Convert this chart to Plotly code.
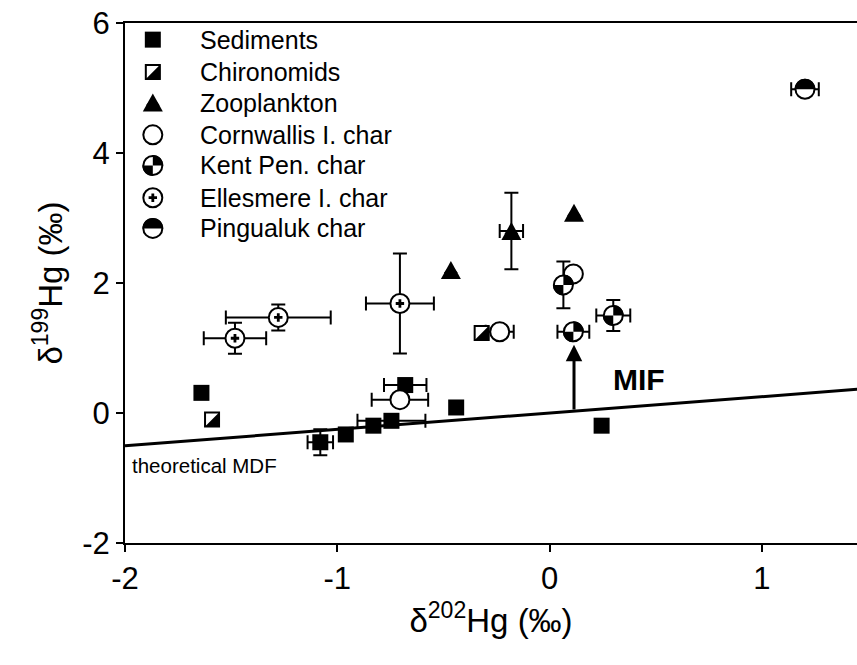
import plotly.graph_objects as go

FONT = "Arial, Liberation Sans, sans-serif"

# ---------------- data (delta202Hg, delta199Hg, permil) ----------------
sed_x = [-1.64, -1.08, -0.96, -0.83, -0.745, -0.68, -0.44, 0.245]
sed_y = [0.31, -0.45, -0.33, -0.195, -0.12, 0.43, 0.085, -0.195]
sed_xerr = [0, 0.06, 0, 0, 0.16, 0.10, 0, 0]
sed_yerr = [0, 0.20, 0, 0, 0, 0, 0, 0]

chir_x = [-1.59, -0.32]
chir_y = [-0.10, 1.23]
chir_xerr = [0, 0]
chir_yerr = [0, 0]

zoo_x = [-0.465, -0.18, 0.115]
zoo_y = [2.20, 2.80, 3.08]
zoo_xerr = [0, 0.055, 0]
zoo_yerr = [0, 0.59, 0]

corn_x = [-0.705, -0.235, 0.112]
corn_y = [0.205, 1.25, 2.14]
corn_xerr = [0.133, 0.066, 0]
corn_yerr = [0, 0, 0]

kent_x = [0.065, 0.112, 0.30]
kent_y = [1.97, 1.25, 1.50]
kent_xerr = [0, 0.075, 0.08]
kent_yerr = [0.36, 0, 0.24]

elle_x = [-1.482, -1.278, -0.705]
elle_y = [1.15, 1.47, 1.685]
elle_xerr = [0.147, 0.247, 0.16]
elle_yerr = [0.24, 0.20, 0.77]

ping_x = [1.203]
ping_y = [4.98]
ping_xerr = [0.065]
ping_yerr = [0]

# theoretical mass-dependent fractionation line
mdf_x = [-2.0, 1.45]
mdf_y = [-0.504, 0.365]

# MIF arrow (from MDF line up to the sample)
mif_x = 0.115
mif_y0 = 0.03
mif_y1 = 1.05

x_ticks = [-2, -1, 0, 1]
x_ticktext = ["-2", "-1", "0", "1"]
y_ticks = [-2, 0, 2, 4, 6]
y_ticktext = ["-2", "0", "2", "4", "6"]

series = [
    ("Sediments", "sed", sed_x, sed_y, sed_xerr, sed_yerr),
    ("Chironomids", "chir", chir_x, chir_y, chir_xerr, chir_yerr),
    ("Zooplankton", "zoo", zoo_x, zoo_y, zoo_xerr, zoo_yerr),
    ("Cornwallis I. char", "corn", corn_x, corn_y, corn_xerr, corn_yerr),
    ("Kent Pen. char", "kent", kent_x, kent_y, kent_xerr, kent_yerr),
    ("Ellesmere I. char", "elle", elle_x, elle_y, elle_xerr, elle_yerr),
    ("Pingualuk char", "ping", ping_x, ping_y, ping_xerr, ping_yerr),
]

# ---------------- symbol helpers ----------------
CIRC = 21
SQ = 16
R = 10.5
KAPPA = 0.5523


def _p(*pts):
    return " ".join(f"{a:.2f},{b:.2f}" for a, b in pts)


def quadrant_path(r, q):
    k = KAPPA * r
    if q == "tr":
        return f"M 0,0 L {r},0 C {_p((r, k), (k, r), (0, r))} Z"
    if q == "bl":
        return f"M 0,0 L {-r},0 C {_p((-r, -k), (-k, -r), (0, -r))} Z"
    if q == "tl":
        return f"M 0,0 L 0,{r} C {_p((-k, r), (-r, k), (-r, 0))} Z"
    return f"M 0,0 L 0,{-r} C {_p((k, -r), (r, -k), (r, 0))} Z"


def top_half_path(r):
    k = KAPPA * r
    return (f"M {-r},0 C {_p((-r, k), (-k, r), (0, r))} "
            f"C {_p((k, r), (r, k), (r, 0))} Z")


def half_square_path(s):
    h = s / 2
    return f"M {-h},{-h} L {h},{-h} L {h},{h} Z"


def triangle_path(w, h):
    return f"M {-w / 2},{-h / 2} L {w / 2},{-h / 2} L 0,{h / 2} Z"


def marker_style(kind):
    if kind == "sed":
        return dict(symbol="square", size=SQ, color="black", line=dict(width=0))
    if kind == "chir":
        return dict(symbol="square", size=SQ - 2, color="white",
                    line=dict(width=2, color="black"))
    if kind == "zoo":
        return dict(symbol="triangle-up", size=12, color="black", line=dict(width=0))
    return dict(symbol="circle", size=CIRC - 2, color="white",
                line=dict(width=2, color="black"))


def fill_shapes(kind, xs, ys, xref, yref):
    paths = []
    if kind == "chir":
        paths = [half_square_path(SQ - 1)]
    elif kind == "kent":
        paths = [quadrant_path(R, "tr"), quadrant_path(R, "bl")]
    elif kind == "ping":
        paths = [top_half_path(R)]
    elif kind == "zoo":
        paths = [triangle_path(20, 18)]
    out = []
    for x, y in zip(xs, ys):
        for p in paths:
            out.append(dict(type="path", xref=xref, yref=yref,
                            xsizemode="pixel", ysizemode="pixel",
                            xanchor=x, yanchor=y, path=p,
                            fillcolor="black", line=dict(width=0),
                            layer="above"))
    return out


fig = go.Figure()
shapes = []

# MDF line
fig.add_trace(go.Scatter(x=mdf_x, y=mdf_y, mode="lines",
                         line=dict(color="black", width=3),
                         showlegend=False, hoverinfo="skip"))

# error bars first so every symbol sits on top of them
for name, kind, xs, ys, xe, ye in series:
    idx = [i for i in range(len(xs)) if xe[i] or ye[i]]
    if not idx:
        continue
    fig.add_trace(go.Scatter(
        x=[xs[i] for i in idx], y=[ys[i] for i in idx], mode="markers",
        marker=dict(size=1, opacity=0),
        error_x=dict(type="data", array=[xe[i] for i in idx], color="black",
                     thickness=2, width=7, visible=True),
        error_y=dict(type="data", array=[ye[i] for i in idx], color="black",
                     thickness=2, width=7, visible=True),
        showlegend=False, hoverinfo="skip"))

# symbols
for name, kind, xs, ys, xe, ye in series:
    fig.add_trace(go.Scatter(x=xs, y=ys, mode="markers", name=name,
                             marker=marker_style(kind), showlegend=False))
    if kind == "elle":
        fig.add_trace(go.Scatter(x=xs, y=ys, mode="markers",
                                 marker=dict(symbol="cross", size=7, color="black",
                                             line=dict(width=0)),
                                 showlegend=False, hoverinfo="skip"))
    shapes += fill_shapes(kind, xs, ys, "x", "y")

# hand-built legend on an overlay axis spanning the plot area (0..1)
LEG_X = 0.038
LEG_TX = 0.1
LEG_ROWS = [0.968, 0.906, 0.847, 0.785, 0.726, 0.664, 0.605]
annotations = []
for (name, kind, *_), ly in zip(series, LEG_ROWS):
    fig.add_trace(go.Scatter(x=[LEG_X], y=[ly], mode="markers", xaxis="x2", yaxis="y2",
                             marker=marker_style(kind), showlegend=False,
                             hoverinfo="skip"))
    if kind == "elle":
        fig.add_trace(go.Scatter(x=[LEG_X], y=[ly], mode="markers", xaxis="x2",
                                 yaxis="y2",
                                 marker=dict(symbol="cross", size=7, color="black",
                                             line=dict(width=0)),
                                 showlegend=False, hoverinfo="skip"))
    shapes += fill_shapes(kind, [LEG_X], [ly], "x2", "y2")
    annotations.append(dict(x=LEG_TX, y=ly, xref="x2", yref="y2", text=name,
                            showarrow=False, xanchor="left", yanchor="middle",
                            font=dict(family=FONT, size=25, color="black")))

# MIF arrow and labels
annotations.append(dict(x=mif_x, y=mif_y1, ax=mif_x, ay=mif_y0, xref="x", yref="y",
                        axref="x", ayref="y", text="", showarrow=True,
                        arrowhead=2, arrowsize=1.1, arrowwidth=3,
                        arrowcolor="black"))
annotations.append(dict(x=0.42, y=0.51, xref="x", yref="y", text="<b>MIF</b>",
                        showarrow=False, xanchor="center", yanchor="middle",
                        font=dict(family=FONT, size=30, color="black")))
annotations.append(dict(x=-1.975, y=-0.80, xref="x", yref="y",
                        text="theoretical MDF", showarrow=False,
                        xanchor="left", yanchor="middle",
                        font=dict(family=FONT, size=20.5, color="black")))

axis_common = dict(showgrid=False, zeroline=False, showline=True, linecolor="black",
                   linewidth=2, ticks="outside", ticklen=7, tickwidth=2,
                   tickcolor="black",
                   tickfont=dict(family=FONT, size=31, color="black"))

fig.update_layout(
    width=857, height=665,
    margin=dict(l=125, r=0, t=23, b=122),
    paper_bgcolor="white", plot_bgcolor="white",
    font=dict(family=FONT, color="black"),
    showlegend=False,
    shapes=shapes,
    annotations=annotations,
    xaxis=dict(range=[-2, 1.448], tickvals=x_ticks, ticktext=x_ticktext, mirror=True,
               title=dict(text="\u03b4<sup>202</sup>Hg (\u2030)",
                          font=dict(family=FONT, size=33, color="black"),
                          standoff=14),
               **axis_common),
    yaxis=dict(range=[-2, 6], tickvals=y_ticks, ticktext=y_ticktext,
               title=dict(text="\u03b4<sup>199</sup>Hg (\u2030)",
                          font=dict(family=FONT, size=33, color="black"),
                          standoff=10),
               **axis_common),
    xaxis2=dict(overlaying="x", range=[0, 1], visible=False, anchor="y2"),
    yaxis2=dict(overlaying="y", range=[0, 1], visible=False, anchor="x2"),
)

fig.write_html("out.html")
